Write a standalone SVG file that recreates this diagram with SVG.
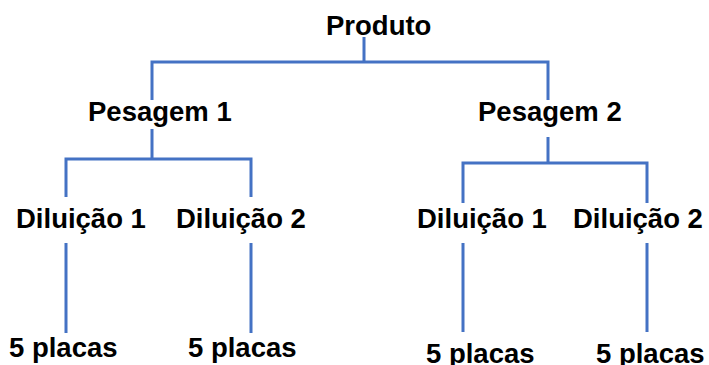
<svg xmlns="http://www.w3.org/2000/svg" width="709" height="365" viewBox="0 0 709 365">
<style>
.t{font-family:"Liberation Sans",Arial,sans-serif;font-weight:bold;font-size:27.5px;fill:#000}
.c{fill:none;stroke:#4472C4;stroke-width:3;stroke-linejoin:miter;stroke-linecap:butt}
</style>
<rect width="709" height="365" fill="#fff"/>
<g id="connectors">
<path class="c" d="M364,37 V62 M152,100 V62 H548 V100"/>
<path class="c" d="M152,129 V159 M66,197 V159 H251 V197"/>
<path class="c" d="M548,137 V163 M463,203 V163 H647 V203"/>
<path class="c" d="M66,243 V333 M251,243 V333 M463,243 V332 M647,243 V332"/>
</g>
<g id="produto"><text class="t" x="326" y="35">Produto</text></g>
<g id="pesagem1"><text class="t" x="88" y="121">Pesagem 1</text></g>
<g id="pesagem2"><text class="t" x="478" y="121">Pesagem 2</text></g>
<g id="diluicao1a"><text class="t" x="16" y="228">Diluição 1</text></g>
<g id="diluicao2a"><text class="t" x="176" y="228">Diluição 2</text></g>
<g id="diluicao1b"><text class="t" x="417" y="228">Diluição 1</text></g>
<g id="diluicao2b"><text class="t" x="573" y="228">Diluição 2</text></g>
<g id="placas1"><text class="t" x="9" y="357">5 placas</text></g>
<g id="placas2"><text class="t" x="188" y="357">5 placas</text></g>
<g id="placas3"><text class="t" x="426" y="363">5 placas</text></g>
<g id="placas4"><text class="t" x="596" y="363">5 placas</text></g>
</svg>
